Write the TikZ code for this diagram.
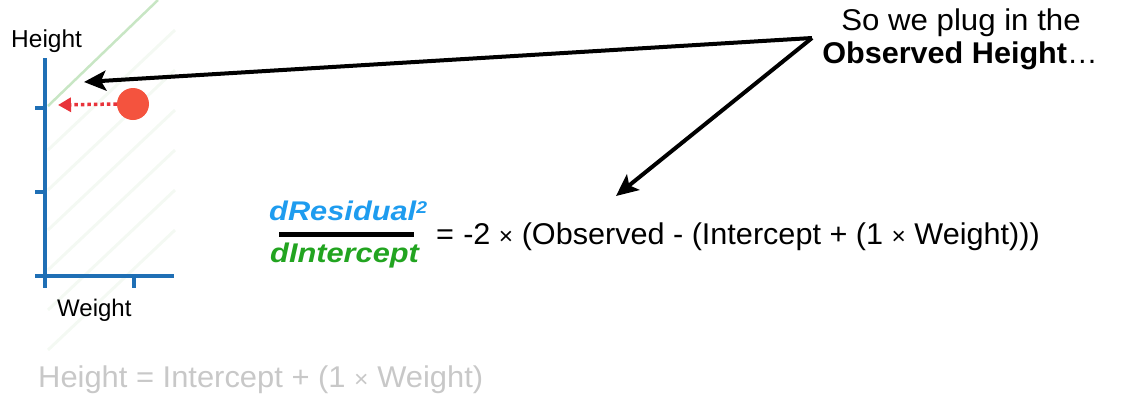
\documentclass[tikz,border=0pt]{standalone}
\usepackage{fontspec}
\setmainfont{Liberation Sans}
\usetikzlibrary{arrows.meta}
\definecolor{axisblue}{HTML}{1F6FB5}
\definecolor{dotred}{HTML}{F4533E}
\definecolor{arrred}{HTML}{E8333A}
\definecolor{numblue}{HTML}{1E9CEF}
\definecolor{dengreen}{HTML}{22A420}
\definecolor{linegreen}{HTML}{C8E6C4}
\definecolor{fadegreen}{HTML}{F4F9F3}
\definecolor{lightgray}{HTML}{C8C8C8}
\tikzset{
  axis/.style={draw=axisblue, line width=4pt},
  bigarrow/.style={draw=black, line width=4pt, line join=miter, -{Stealth[length=22pt,width=20pt,inset=5pt]}},
  lbl/.style={inner sep=0pt, anchor=base west},
  ctr/.style={inner sep=0pt, anchor=base},
}
\begin{document}
\begin{tikzpicture}[x=1pt,y=-1pt]
\useasboundingbox (0,0) rectangle (1125,407);
% faint background lines
\foreach \d in {0,40,80,120,160} {
  \draw[fadegreen, line width=3pt] (48,190+\d) -- (175,70+\d);
}
\draw[fadegreen, line width=3pt] (48,150) -- (175,30);
\draw[linegreen, line width=2.5pt] (48,106) -- (158,0);
% axes
\draw[axis] (45,58) -- (45,288);
\draw[axis] (35,276) -- (174,276);
\draw[axis] (35,108) -- (45,108);
\draw[axis] (35,192) -- (45,192);
\draw[axis] (134,276) -- (134,288);
\node[lbl, font=\fontsize{24.5}{28}\selectfont] (hl) at (11,47) {Height};
\node[lbl, font=\fontsize{24}{28}\selectfont] (wl) at (57,316) {Weight};
% red point
\node[circle, fill=dotred, minimum size=32pt, inner sep=0pt] (pt) at (133,104) {};
\coordinate (ptend) at (58,105);
\draw[arrred, line width=3.5pt, dash pattern=on 3.5pt off 3pt, -{Triangle[length=13pt,width=14pt]}] (pt.west) -- (ptend);
% top-right text
\node[ctr, font=\fontsize{30}{33}\selectfont] (txt1) at (961,30) {\scalebox{1.04}[1]{So we plug in the}};
\node[ctr, font=\fontsize{30}{33}\selectfont] (txt2) at (960,63) {\scalebox{1.02}[1]{\textbf{Observed Height}\ldots}};
\coordinate (src) at (812,38);
\coordinate (t1) at (84,82);
\coordinate (t2) at (616,196);
\draw[bigarrow] (src) -- (t1);
\draw[bigarrow] (src) -- (t2);
% fraction
\node[lbl, font=\fontsize{27}{30}\selectfont\bfseries\itshape, text=numblue] (num) at (269,220) {\scalebox{1.14}[1]{dResidual\raisebox{6.5pt}{\fontsize{17}{17}\selectfont 2}}};
\node[lbl, font=\fontsize{27}{30}\selectfont\bfseries\itshape, text=dengreen] (den) at (270,262) {\scalebox{1.14}[1]{dIntercept}};
\draw[line width=5pt] (279,234.5) -- (414,234.5);
\node[lbl, font=\fontsize{30}{34}\selectfont] (eq) at (436,244.5) {\scalebox{1.02}[1]{=\hspace{9pt}-2 {\fontsize{24}{24}\selectfont ×} (Observed - (Intercept + (1 {\fontsize{24}{24}\selectfont ×} Weight)))}};
% bottom formula
\node[lbl, font=\fontsize{30}{34}\selectfont, text=lightgray] (hf) at (38,387) {\scalebox{1.03}[1]{Height = Intercept + (1 {\fontsize{24}{24}\selectfont ×} Weight)}};
\end{tikzpicture}
\end{document}
